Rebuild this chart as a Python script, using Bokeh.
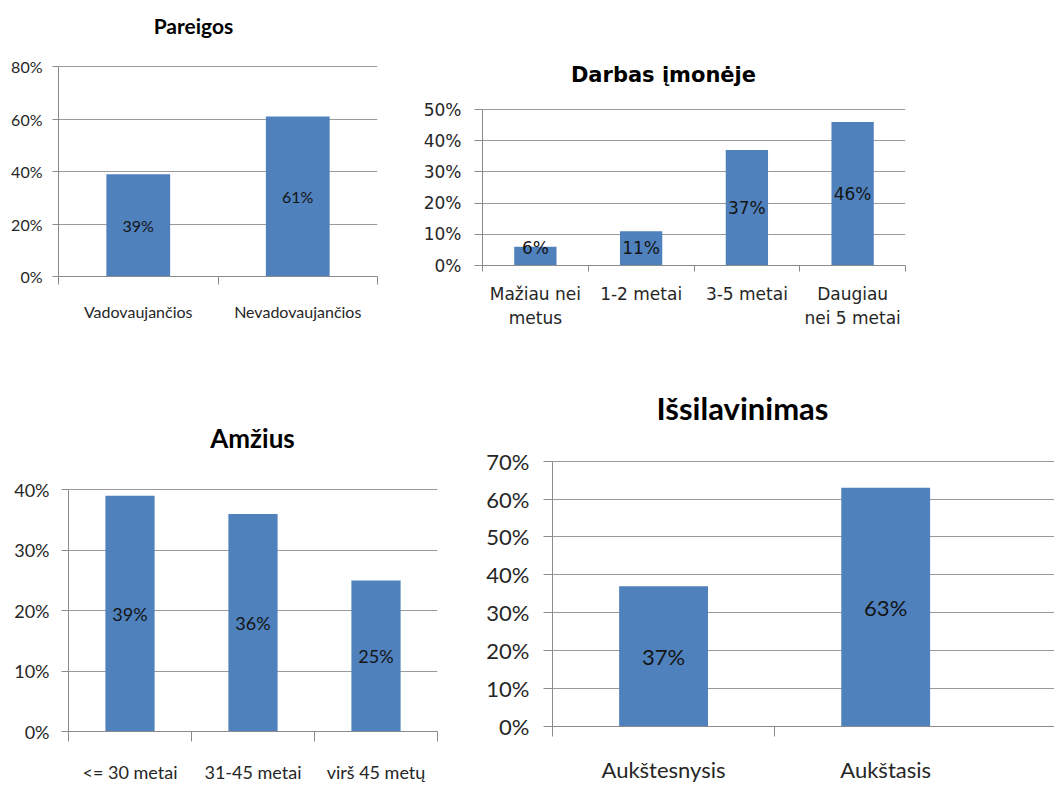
from bokeh.plotting import figure
from bokeh.models import FixedTicker, Label, Range1d, ColumnDataSource
from bokeh.layouts import column, row
from bokeh.embed import file_html
from bokeh.resources import INLINE
from bokeh.core.properties import value

# ---- data -------------------------------------------------------------
pareigos_labels = ["Vadovaujančios", "Nevadovaujančios"]
pareigos_values = [39, 61]
pareigos_ticks = [0, 20, 40, 60, 80]

darbas_labels = ["Mažiau nei\nmetus", "1-2 metai", "3-5 metai", "Daugiau\nnei 5 metai"]
darbas_values = [6, 11, 37, 46]
darbas_ticks = [0, 10, 20, 30, 40, 50]

amzius_labels = ["<= 30 metai", "31-45 metai", "virš 45 metų"]
amzius_values = [39, 36, 25]
amzius_ticks = [0, 10, 20, 30, 40]

issil_labels = ["Aukštesnysis", "Aukštasis"]
issil_values = [37, 63]
issil_ticks = [0, 10, 20, 30, 40, 50, 60, 70]

# ---- styling ----------------------------------------------------------
BAR = "#4F81BD"
GRID = "#9A9A9A"
AXIS = "#8A8A8A"
TICK_TEXT = "#262626"
LABEL_TEXT = "#141414"
CAL = "Lato"
WIDE = "DejaVu Sans"


def bar_chart(title, labels, values, yticks, *, width, height, left, right,
              bottom, top_tick_px, font, font_size, title_size, title_xy,
              ytick_len, ystand, xtick_len, xstand, x_end=None,
              boundaries=None, min_label_y=None):
    """Excel-style column chart. The plot frame starts at the top edge of
    the figure so the title can sit inside it; the value axis is bounded
    to the tick range."""
    n = len(labels)
    centers = [i + 0.5 for i in range(n)]
    frame_h = height - bottom
    ymax = yticks[-1]
    y_end = ymax * frame_h / (frame_h - top_tick_px)
    p = figure(width=width, height=height, output_backend="svg",
               toolbar_location=None, tools="",
               x_range=Range1d(0, x_end if x_end is not None else n),
               y_range=Range1d(0, y_end),
               min_border_left=left, min_border_right=right,
               min_border_top=0, min_border_bottom=bottom)
    p.outline_line_color = None
    p.background_fill_color = "white"
    p.border_fill_color = "white"

    src = ColumnDataSource(dict(
        x=centers, top=values,
        ly=[max(v / 2, min_label_y) if min_label_y else v / 2 for v in values],
        txt=[f"{v}%" for v in values]))
    p.vbar(x="x", top="top", width=0.4, bottom=0, source=src,
           fill_color=BAR, line_color=None)
    p.text(x="x", y="ly", text="txt", source=src, text_align="center",
           text_baseline="middle", text_font=value(font),
           text_font_size=f"{font_size}px", text_color=LABEL_TEXT)

    # value axis
    p.yaxis.bounds = (yticks[0], ymax)
    p.yaxis.ticker = FixedTicker(ticks=yticks, minor_ticks=[])
    p.yaxis.major_label_overrides = {t: f"{t}%" for t in yticks}
    p.yaxis.axis_line_color = AXIS
    p.yaxis.major_tick_line_color = AXIS
    p.yaxis.major_tick_out = ytick_len
    p.yaxis.major_tick_in = 0
    p.yaxis.minor_tick_line_color = None
    p.yaxis.major_label_standoff = ystand
    p.yaxis.major_label_text_font = font
    p.yaxis.major_label_text_font_size = f"{font_size}px"
    p.yaxis.major_label_text_color = TICK_TEXT
    p.ygrid.ticker = FixedTicker(ticks=yticks, minor_ticks=[])
    p.ygrid.grid_line_color = GRID
    p.xgrid.visible = False

    # category axis: labels at centres, tick marks at category borders
    if boundaries is None:
        boundaries = list(range(n + 1))
    p.xaxis.ticker = FixedTicker(ticks=centers, minor_ticks=boundaries)
    p.xaxis.major_label_overrides = {c: l for c, l in zip(centers, labels)}
    p.xaxis.axis_line_color = AXIS
    p.xaxis.major_tick_line_color = None
    p.xaxis.major_tick_out = 0
    p.xaxis.major_tick_in = 0
    p.xaxis.minor_tick_line_color = AXIS
    p.xaxis.minor_tick_out = xtick_len
    p.xaxis.minor_tick_in = 0
    p.xaxis.major_label_standoff = xstand
    p.xaxis.major_label_text_font = font
    p.xaxis.major_label_text_font_size = f"{font_size}px"
    p.xaxis.major_label_text_color = TICK_TEXT

    tx, ty = title_xy  # relative to the frame's left edge / figure top
    p.add_layout(Label(x=tx, y=frame_h - ty, x_units="screen", y_units="screen",
                       text=title, text_align="center", text_baseline="middle",
                       text_font=font, text_font_style="bold",
                       text_font_size=f"{title_size}px", text_color="#000000"))
    return p


p1 = bar_chart("Pareigos", pareigos_labels, pareigos_values, pareigos_ticks,
               width=395, height=340, left=58, right=18, bottom=64,
               top_tick_px=66, font=CAL, font_size=16, title_size=21,
               title_xy=(135, 25), ytick_len=6, ystand=10, xtick_len=8,
               xstand=17)

p2 = bar_chart("Darbas įmonėje", darbas_labels, darbas_values, darbas_ticks,
               width=540, height=340, left=87, right=30, bottom=75,
               top_tick_px=109, font=WIDE, font_size=17, title_size=21,
               title_xy=(181, 74), ytick_len=8, ystand=13, xtick_len=6,
               xstand=12, min_label_y=5.5)

p3 = bar_chart("Amžius", amzius_labels, amzius_values, amzius_ticks,
               width=460, height=445, left=68, right=23, bottom=52,
               top_tick_px=150, font=CAL, font_size=18, title_size=26,
               title_xy=(184, 99), ytick_len=7, ystand=12, xtick_len=10,
               xstand=19)

p4 = bar_chart("Išsilavinimas", issil_labels, issil_values, issil_ticks,
               width=594, height=445, left=92, right=0, bottom=58,
               top_tick_px=121, font=CAL, font_size=22, title_size=31,
               title_xy=(190, 68), ytick_len=9, ystand=14, xtick_len=10,
               xstand=19, x_end=2.26, boundaries=[0, 1])

layout = column(row(column(p1), column(p2)), row(column(p3), column(p4)))
open("out.html", "w").write(file_html(layout, INLINE))
